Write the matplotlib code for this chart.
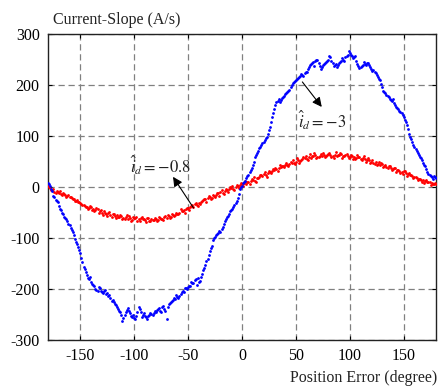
import numpy as np
import matplotlib
matplotlib.use("Agg")
import matplotlib.pyplot as plt

# Position error (degree): even samples and odd samples
position_error_even = np.arange(-180, 181, 2)
position_error_odd = np.arange(-179, 180, 2)

# Current slope (A/s) for i_d = -3 (blue), even degrees
slope_id_m3_even = [
    8, 2, -8, -20, -28, -38, -45, -52, -60, -66,
    -75, -84, -95, -108, -118, -130, -148, -160, -172, -180,
    -186, -192, -200, -203, -198, -206, -204, -210, -214, -218,
    -222, -230, -236, -244, -250, -256, -246, -238, -248, -254,
    -256, -252, -236, -246, -250, -252, -258, -250, -249, -247,
    -245, -240, -244, -236, -240, -258, -230, -226, -222, -220,
    -216, -214, -206, -205, -199, -196, -194, -188, -182, -192,
    -186, -176, -163, -152, -141, -125, -116, -100, -95, -90,
    -88, -78, -66, -58, -52, -46, -40, -32, -22, -4,
    2, 10, 18, 24, 34, 44, 58, 66, 76, 82,
    88, 96, 104, 118, 138, 152, 166, 172, 170, 176,
    182, 186, 190, 200, 206, 210, 214, 218, 220, 224,
    226, 236, 242, 245, 248, 250, 238, 236, 242, 246,
    250, 254, 244, 240, 236, 244, 248, 250, 254, 258,
    262, 256, 254, 248, 238, 236, 240, 242, 244, 240,
    232, 230, 224, 216, 210, 196, 186, 180, 176, 170,
    172, 160, 154, 150, 146, 138, 128, 114, 98, 88,
    78, 70, 62, 56, 48, 42, 30, 24, 20, 22,
    18,
]

# Current slope (A/s) for i_d = -3 (blue), odd degrees
slope_id_m3_odd = [
    6, -4, -18, -26, -30, -44, -50, -58, -62, -72,
    -80, -88, -102, -112, -124, -140, -156, -166, -178, -176,
    -190, -194, -202, -196, -204, -208, -202, -208, -212, -224,
    -226, -232, -240, -246, -262, -250, -242, -244, -252, -250,
    -258, -246, -240, -254, -248, -254, -252, -248, -250, -244,
    -242, -238, -246, -234, -244, -236, -228, -224, -218, -212,
    -218, -210, -204, -198, -200, -194, -186, -188, -180, -178,
    -184, -170, -158, -146, -134, -120, -104, -98, -92, -86,
    -82, -72, -62, -56, -48, -44, -36, -28, -14, 0,
    8, 12, 22, 30, 38, 50, 62, 70, 78, 86,
    92, 98, 112, 128, 146, 160, 168, 166, 174, 178,
    184, 188, 196, 204, 208, 212, 216, 222, 218, 226,
    232, 240, 243, 238, 250, 244, 232, 240, 244, 248,
    256, 248, 238, 242, 240, 246, 252, 248, 256, 266,
    258, 252, 256, 242, 234, 238, 246, 240, 243, 236,
    228, 226, 220, 212, 202, 188, 184, 178, 172, 168,
    164, 156, 152, 148, 142, 132, 122, 104, 94, 82,
    74, 66, 58, 52, 44, 36, 26, 22, 16, 20,
]

# Current slope (A/s) for i_d = -0.8 (red), even degrees
slope_id_m08_even = [
    2, -2, -6, -10, -8, -12, -14, -12, -16, -18,
    -20, -22, -24, -28, -30, -32, -36, -38, -40, -42,
    -40, -44, -46, -44, -48, -50, -48, -52, -50, -54,
    -53, -56, -55, -58, -56, -60, -58, -62, -60, -64,
    -61, -59, -63, -60, -62, -64, -60, -66, -63, -65,
    -62, -64, -60, -62, -58, -60, -56, -58, -55, -54,
    -52, -50, -48, -46, -44, -42, -40, -36, -34, -36,
    -32, -30, -26, -24, -22, -20, -22, -18, -16, -12,
    -10, -12, -8, -6, -4, -2, -4, 0, 2, 4,
    6, 8, 6, 10, 12, 14, 12, 18, 20, 24,
    26, 24, 28, 30, 32, 34, 36, 38, 40, 42,
    44, 43, 46, 48, 47, 50, 52, 51, 54, 56,
    55, 58, 57, 60, 62, 58, 61, 60, 63, 61,
    64, 62, 60, 63, 61, 62, 64, 60, 62, 60,
    58, 61, 59, 57, 58, 55, 56, 54, 52, 53,
    50, 48, 49, 46, 44, 45, 42, 40, 41, 38,
    36, 37, 34, 32, 30, 31, 28, 26, 24, 22,
    20, 18, 16, 14, 13, 12, 10, 9, 8, 6,
    5,
]

# Current slope (A/s) for i_d = -0.8 (red), odd degrees
slope_id_m08_odd = [
    0, -6, -4, -12, -10, -8, -16, -14, -20, -16,
    -20, -24, -28, -26, -30, -34, -36, -40, -44, -38,
    -46, -48, -42, -50, -46, -54, -50, -56, -49, -58,
    -52, -60, -58, -54, -62, -63, -55, -57, -66, -58,
    -60, -67, -66, -58, -62, -68, -60, -67, -64, -60,
    -66, -58, -62, -64, -56, -54, -60, -52, -57, -50,
    -53, -44, -48, -50, -42, -46, -37, -40, -32, -38,
    -34, -28, -24, -30, -18, -24, -16, -20, -12, -18,
    -6, -14, -4, -10, 0, 2, -6, 4, -2, 8,
    2, 12, 10, 6, 16, 20, 10, 18, 24, 22,
    30, 20, 32, 28, 36, 38, 32, 44, 42, 40,
    48, 42, 50, 52, 46, 56, 48, 52, 58, 60,
    52, 64, 60, 66, 56, 58, 65, 67, 58, 62,
    66, 58, 57, 68, 62, 66, 57, 60, 64, 56,
    63, 55, 54, 62, 58, 52, 60, 50, 56, 48,
    53, 46, 44, 50, 47, 40, 44, 38, 41, 34,
    38, 30, 34, 28, 26, 32, 22, 28, 24, 18,
    20, 14, 16, 10, 8, 14, 10, 4, 6, 8,
]

x_ticks = [-150, -100, -50, 0, 50, 100, 150]
y_ticks = [-300, -200, -100, 0, 100, 200, 300]

plt.rcParams['font.family'] = ['Liberation Serif', 'DejaVu Serif']
plt.rcParams['mathtext.fontset'] = 'stix'
plt.rcParams['axes.unicode_minus'] = False

fig = plt.figure(figsize=(4.39, 3.90), dpi=100)
ax = fig.add_axes([0.1093, 0.1282, 0.8839, 0.7846])

red = (1, 0, 0)
blue = (0, 0, 1)
for xs, ys in ((position_error_even, slope_id_m08_even),
               (position_error_odd, slope_id_m08_odd)):
    ax.plot(xs, ys, linestyle='none', marker='o', markersize=2.0,
            markeredgewidth=0, color=red, zorder=3)
for xs, ys in ((position_error_even, slope_id_m3_even),
               (position_error_odd, slope_id_m3_odd)):
    ax.plot(xs, ys, linestyle='none', marker='o', markersize=2.0,
            markeredgewidth=0, color=blue, zorder=4)

ax.set_xlim(-180, 180)
ax.set_ylim(-300, 300)
ax.set_xticks(x_ticks)
ax.set_yticks(y_ticks)
ax.grid(True, color=(0.5, 0.5, 0.5), linestyle=(0, (5, 3)), linewidth=0.9)
ax.set_axisbelow(True)
ax.tick_params(direction='in', length=3, top=True, right=True,
               labelsize=11.5, width=0.8, pad=6)
for s in ax.spines.values():
    s.set_linewidth(1.0)
    s.set_color('#222222')

arrow = dict(arrowstyle='-|>', color='k', lw=0.8, mutation_scale=14,
             shrinkA=0, shrinkB=0)
ax.annotate('', xy=(-64, 20), xytext=(-45, -41), arrowprops=arrow, zorder=5)
ax.text(-76, 43, r'$\hat{i}_d=-0.8$', fontsize=12, ha='center', va='center',
        color='#222222')
ax.annotate('', xy=(74, 157), xytext=(56, 206), arrowprops=arrow, zorder=5)
ax.text(74, 131, r'$\hat{i}_d=-3$', fontsize=12, ha='center', va='center',
        color='#222222')

fig.text(0.121, 0.949, 'Current-Slope (A/s)', fontsize=11.5, ha='left',
         va='center', color='#222222')
fig.text(0.996, 0.031, 'Position Error (degree)', fontsize=11.5, ha='right',
         va='center', color='#222222')

fig.savefig('out.png', dpi=100)
